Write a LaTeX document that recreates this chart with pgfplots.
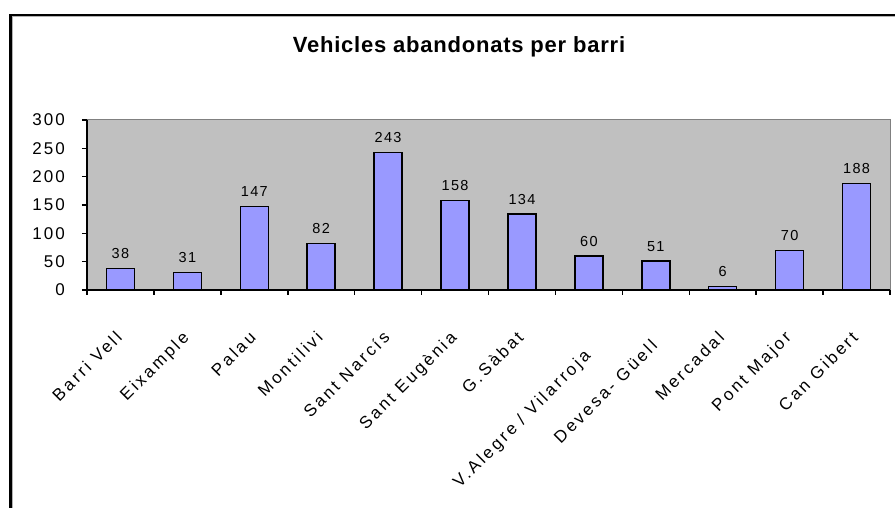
\documentclass[border=0pt]{standalone}
\usepackage{pgfplots}
\pgfplotsset{compat=1.18}
\usepackage{fontspec}
\setmainfont{Liberation Sans}
\newfontfamily\titlefont[LetterSpace=3.5]{Liberation Sans}
\newfontfamily\yfont[LetterSpace=12]{Liberation Sans}
\newfontfamily\xfont[LetterSpace=16]{Liberation Sans}
\newfontfamily\vfont[LetterSpace=9]{Liberation Sans}
\definecolor{barblue}{HTML}{9999FF}
\definecolor{plotgrey}{HTML}{C0C0C0}
\definecolor{bordergrey}{HTML}{808080}
\newcommand\lab[2]{\raisebox{-#1}[12pt][0pt]{\smash{#2}}\hspace*{#1}}
\begin{document}
\begin{tikzpicture}[x=1pt,y=1pt]
\useasboundingbox (0,0) rectangle (895,508);
\fill[white] (0,0) rectangle (895,508);
\draw[gray!60, line width=1pt] (12.5,0) -- (12.5,491.5) -- (895,491.5);
\draw[black, line width=3pt] (10.5,0) -- (10.5,493.25);
\draw[black, line width=2pt] (9,493.25) -- (895,493.25);
\node[font=\titlefont\bfseries\fontsize{22}{26}\selectfont] at (459,461) {Vehicles abandonats per barri};
\begin{axis}[
  at={(87pt,218pt)}, anchor=south west,
  scale only axis, width=803pt, height=170pt,
  xmin=-0.5, xmax=11.5, ymin=0, ymax=300,
  ytick={0,50,...,300},
  xtick={-0.5,0.5,...,11.5},
  xticklabels={},
  extra x ticks={0,1,2,3,4,5,6,7,8,9,10,11},
  extra x tick labels={\lab{0pt}{Barri Vell},\lab{0pt}{Eixample},\lab{0pt}{Palau},\lab{0pt}{Montilivi},\lab{0pt}{Sant Narcís},\lab{0pt}{Sant Eugènia},\lab{0pt}{G.Sàbat},\lab{13pt}{V.Alegre / Vilarroja},\lab{6pt}{Devesa- Güell},\lab{0pt}{Mercadal},\lab{0pt}{Pont Major},\lab{0pt}{Can Gibert}},
  extra x tick style={major tick length=0pt},
  axis x line*=bottom, axis y line*=left,
  axis line style={line width=1.5pt, black, -},
  axis background/.style={fill=plotgrey, draw=bordergrey, line width=1pt},
  tick align=outside,
  major tick length=5pt,
  tick style={black, line width=1.5pt},
  yticklabel style={font=\yfont\fontsize{17}{19}\selectfont, inner sep=0pt, xshift=-17pt},
  xticklabel style={font=\xfont\fontsize{17}{19}\selectfont, inner sep=0pt, xshift=-6pt, yshift=-40pt, rotate=45, anchor=north east},
  /pgf/number format/assume math mode=true,
  ybar, bar width=28pt,
  nodes near coords,
  every node near coord/.append style={font=\vfont\fontsize{14.5}{16}\selectfont, anchor=south, inner sep=0pt, yshift=9pt, black},
  clip=false,
]
\addplot[fill=barblue, draw=black, line width=1.5pt] coordinates {
(0,38) (1,31) (2,147) (3,82) (4,243) (5,158) (6,134) (7,60) (8,51) (9,6) (10,70) (11,188)};
\end{axis}
\end{tikzpicture}
\end{document}
